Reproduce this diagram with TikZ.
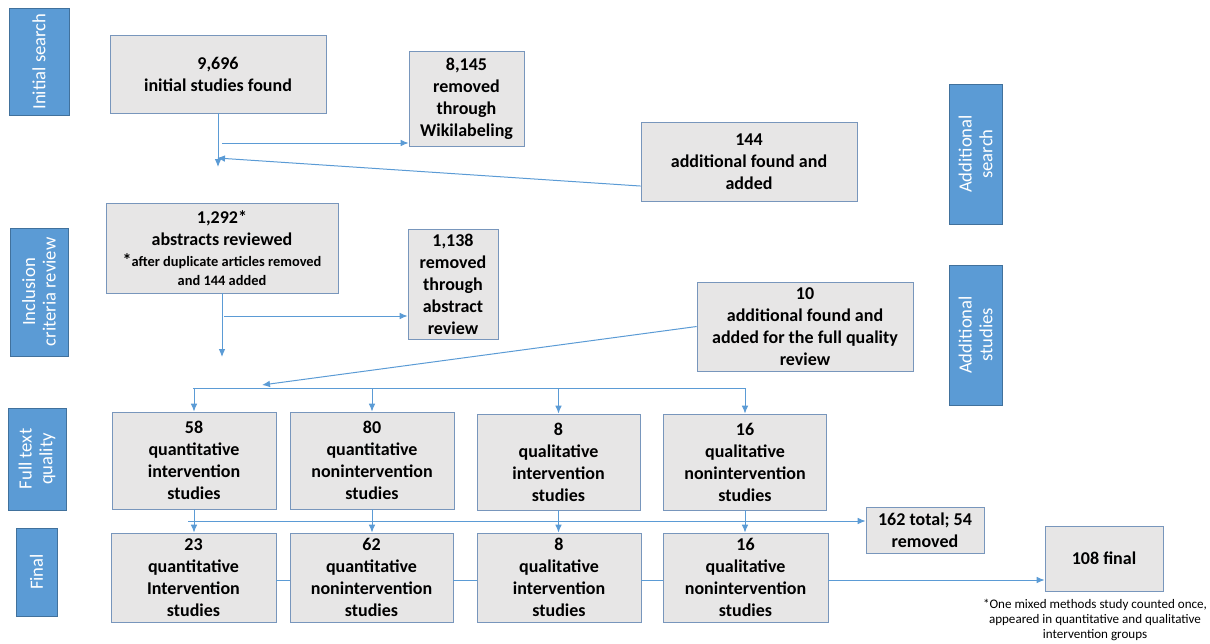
\documentclass[tikz,border=0pt]{standalone}
\usepackage{fontspec}
\setmainfont{Carlito}
\usetikzlibrary{arrows.meta}
\definecolor{linkblue}{HTML}{5B9BD5}
\definecolor{stageblue}{HTML}{5B9BD5}
\definecolor{stageedge}{HTML}{41719C}
\definecolor{boxgrey}{HTML}{E7E6E6}
\definecolor{boxedge}{HTML}{7896BC}
\begin{document}
\begin{tikzpicture}[x=0.75pt,y=-0.75pt,
    arrow/.style = {linkblue,line width=0.75pt,-{Latex[length=6pt,width=5pt]}},
    link/.style = {linkblue,line width=0.75pt},
    box/.style = {draw=boxedge,fill=boxgrey,line width=0.6pt,align=center,inner sep=0pt,
        font=\fontsize{13.5}{16.5}\selectfont\bfseries},
    stage/.style = {draw=stageedge,fill=stageblue,text=white,rotate=90,align=center,
        inner sep=0pt,line width=0.6pt,font=\fontsize{14}{15.5}\selectfont}]

    \useasboundingbox (0,0) rectangle (1210,643);

    % stages
    \node[stage,minimum width=80.25pt,minimum height=45pt] (s-initial) at (39,61.5) {Initial search};
    \node[stage,minimum width=96pt,minimum height=43.5pt] (s-inclusion) at (39,292) {Inclusion\\criteria review};
    \node[stage,minimum width=76.5pt,minimum height=43.5pt] (s-fulltext) at (37,459) {Full text\\quality};
    \node[stage,minimum width=66pt,minimum height=30.75pt] (s-final) at (36.5,572) {Final};
    \node[stage,minimum width=105pt,minimum height=39.75pt] (s-addsearch) at (975.5,154) {Additional\\search};
    \node[stage,minimum width=105pt,minimum height=39.75pt] (s-addstudies) at (975.5,335) {Additional\\studies};

    % search
    \node[box,minimum width=162pt,minimum height=58.5pt] (found) at (218,74) {9,696\\initial studies found};
    \node[box,minimum width=86.25pt,minimum height=71.25pt] (wiki) at (466.5,98.5) {8,145\\removed\\through\\Wikilabeling};
    \node[box,minimum width=162pt,minimum height=59.25pt] (extra) at (749,161.5) {144\\additional found and\\added};

    % inclusion review
    \node[box,minimum width=174pt,minimum height=67.5pt] (abstracts) at (222,248)
        {1,292*\\abstracts reviewed\\[-1pt]
         *{\fontsize{10.8}{12}\selectfont after duplicate articles removed}\\[-2.5pt]
         {\fontsize{10.8}{12}\selectfont and 144 added}};
    \node[box,minimum width=67.5pt,minimum height=82.5pt] (abstractout) at (453,284) {1,138\\removed\\through\\abstract\\review};
    \node[box,minimum width=162pt,minimum height=66.75pt] (late) at (805,326.5) {10\\additional found and\\added for the full quality\\review};

    % full text quality
    \node[box,minimum width=123pt,minimum height=72.75pt] (qnI) at (194,460.5) {58\\quantitative\\intervention\\studies};
    \node[box,minimum width=123pt,minimum height=72.75pt] (qnN) at (372,460.5) {80\\quantitative\\nonintervention\\studies};
    \node[box,minimum width=122.25pt,minimum height=72pt] (qlI) at (558.5,462) {8\\qualitative\\intervention\\studies};
    \node[box,minimum width=122.25pt,minimum height=72pt] (qlN) at (745,462) {16\\qualitative\\nonintervention\\studies};
    \node[box,minimum width=88.5pt,minimum height=34.5pt] (dropped) at (925,530) {162 total; 54\\removed};

    % final
    \node[box,minimum width=123.75pt,minimum height=66.75pt] (fqnI) at (193.5,577.5) {23\\quantitative\\Intervention\\studies};
    \node[box,minimum width=122.25pt,minimum height=66.75pt] (fqnN) at (371.5,577.5) {62\\quantitative\\nonintervention\\studies};
    \node[box,minimum width=123pt,minimum height=66.75pt] (fqlI) at (559,577.5) {8\\qualitative\\intervention\\studies};
    \node[box,minimum width=123.75pt,minimum height=66.75pt] (fqlN) at (745.5,577.5) {16\\qualitative\\nonintervention\\studies};
    \node[box,minimum width=88.5pt,minimum height=48.75pt] (total) at (1104,558.5) {108 final};
    \node[align=center,font=\fontsize{9.8}{11}\selectfont] (note) at (1095,620)
        {*One mixed methods study counted once,\\appeared in quantitative and qualitative\\intervention groups};

    % connectors
    \coordinate (split1) at (218,167);
    \coordinate (tap1) at (222,143);
    \coordinate (merge1) at (217,158);
    \draw[arrow] (found) -- (split1);
    \draw[arrow] (tap1) -- (wiki.west |- tap1);
    \draw[arrow] ([yshift=-18.4pt]extra.west) -- (merge1);

    \coordinate (split2) at (222,357);
    \coordinate (tap2) at (224,316);
    \coordinate (merge2) at (262,385);
    \draw[arrow] (abstracts) -- (split2);
    \draw[arrow] (tap2) -- (abstractout.west |- tap2);
    \draw[arrow] (late.west) -- (merge2);

    \coordinate (fanL) at (193,388);
    \coordinate (fanR) at (745,388);
    \draw[link] (fanL) -- (fanR);
    \foreach \n in {qnI,qnN,qlI,qlN}
        \draw[arrow] (fanL -| \n.north) -- (\n.north);

    \foreach \u/\l in {qnI/fqnI,qnN/fqnN,qlI/fqlI,qlN/fqlN}
        \draw[arrow] (\u) -- (\u |- \l.north);
    \coordinate (sumL) at (188,521);
    \draw[arrow] (sumL) -- (dropped.west |- sumL);

    \coordinate (rowline) at (200,580);
    \draw[link] (fqnI.east |- rowline) -- (fqnN.west |- rowline)
        (fqnN.east |- rowline) -- (fqlI.west |- rowline)
        (fqlI.east |- rowline) -- (fqlN.west |- rowline);
    \draw[arrow] (fqlN.east |- rowline) -- (total.west |- rowline);
\end{tikzpicture}
\end{document}
